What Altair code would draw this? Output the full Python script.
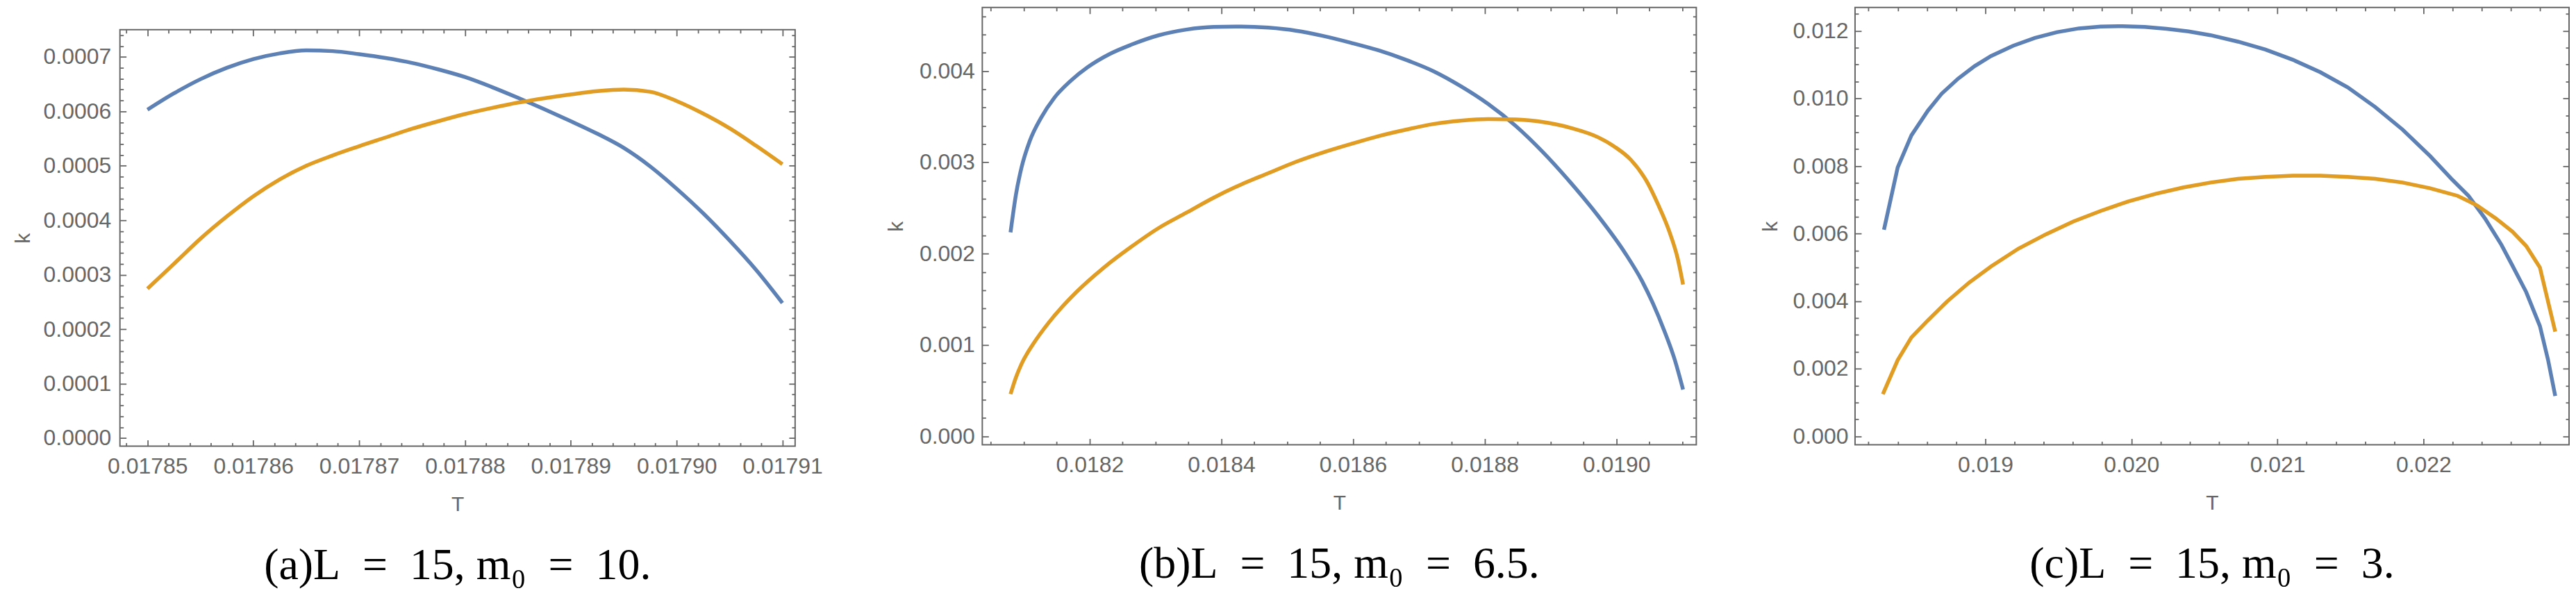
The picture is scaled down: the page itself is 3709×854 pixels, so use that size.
import math
import altair as alt
import pandas as pd

BLUE = "#5E81B5"
ORANGE = "#E19C24"
GREY = "#666666"
SANS = "Liberation Sans"
SERIF = "Liberation Serif"

# ---------------- Panel (a): L = 15, m0 = 10 ----------------
a_T = [0.01785, 0.0178525, 0.017855, 0.0178575, 0.01786, 0.0178625, 0.017865,
       0.0178675, 0.01787, 0.0178725, 0.017875, 0.0178775, 0.01788, 0.0178825,
       0.017885, 0.0178875, 0.01789, 0.0178925, 0.017895, 0.0178975, 0.0179,
       0.0179025, 0.017905, 0.0179075, 0.01791]
a_blue = [0.000603, 0.000633, 0.000659, 0.000680, 0.000696, 0.0007065, 0.000712,
          0.0007106, 0.000705, 0.000698, 0.000689, 0.000677, 0.000663, 0.000645,
          0.000625, 0.000604, 0.000582, 0.000559, 0.000533, 0.000499, 0.000458,
          0.000413, 0.000363, 0.000309, 0.000248]
a_orange = [0.0002745, 0.00032, 0.000366, 0.000407, 0.000444, 0.000475, 0.0005,
            0.000519, 0.000536, 0.000552, 0.000568, 0.000582, 0.000595, 0.000606,
            0.000616, 0.000624, 0.000631, 0.000637, 0.00064, 0.000636, 0.000619,
            0.000596, 0.000569, 0.000537, 0.000503]

# ---------------- Panel (b): L = 15, m0 = 6.5 ----------------
b_blue_T = [0.0180799, 0.0180883, 0.0180966, 0.0181091, 0.0181258, 0.0181466,
            0.0181717, 0.0181966, 0.01823, 0.0182634, 0.0183051, 0.0183468,
            0.0183884, 0.0184301, 0.0184718, 0.0185135, 0.0185552, 0.0185969,
            0.0186387, 0.0186804, 0.0187221, 0.0187638, 0.0188054, 0.0188471,
            0.0188888, 0.0189305, 0.0189722, 0.0190139, 0.0190389, 0.0190556,
            0.0190723, 0.0190889, 0.0191014]
b_blue = [0.002233, 0.002655, 0.002944, 0.003234, 0.003482, 0.003709, 0.003896,
          0.00404, 0.004185, 0.004289, 0.004392, 0.004454, 0.004483, 0.004487,
          0.004475, 0.004442, 0.004384, 0.00431, 0.004227, 0.004123, 0.003999,
          0.003834, 0.003639, 0.0034, 0.00311, 0.002779, 0.002415, 0.002001,
          0.001703, 0.001455, 0.001166, 0.000835, 0.000512]
b_orange_T = [0.0180799, 0.0180883, 0.0180966, 0.0181133, 0.0181383, 0.01818,
              0.0182217, 0.0182634, 0.0183051, 0.0183468, 0.0183884, 0.0184301,
              0.0184718, 0.0185135, 0.0185552, 0.0185969, 0.0186387, 0.0186804,
              0.0187221, 0.0187638, 0.0188054, 0.0188471, 0.0188888, 0.0189305,
              0.0189722, 0.0189972, 0.0190222, 0.0190472, 0.0190639, 0.0190806,
              0.0190931, 0.0191014]
b_orange = [0.000462, 0.000649, 0.000793, 0.001, 0.001249, 0.00158, 0.001848,
            0.002076, 0.002282, 0.002448, 0.002613, 0.002758, 0.002882, 0.003006,
            0.00311, 0.003201, 0.003287, 0.003358, 0.00342, 0.003457, 0.003474,
            0.00347, 0.003441, 0.003378, 0.003275, 0.003172, 0.003027, 0.002779,
            0.002531, 0.002241, 0.001951, 0.001662]

# ---------------- Panel (c): L = 15, m0 = 3 ----------------
c_blue_T = [0.018306, 0.0184, 0.018494, 0.0186065, 0.0187005, 0.0188135, 0.018926,
            0.0190389, 0.0191894, 0.0193394, 0.0194899, 0.0196403, 0.0197903,
            0.0199408, 0.0200913, 0.0202413, 0.0203918, 0.0205422, 0.0207302,
            0.0209182, 0.0211062, 0.0212942, 0.0214816, 0.0216696, 0.0218576,
            0.0220456, 0.0221961, 0.0223086, 0.0224215, 0.022534, 0.0226095,
            0.0227035, 0.0227975, 0.0228535, 0.0229024]
c_blue = [0.006113, 0.007957, 0.008907, 0.009635, 0.010137, 0.010585, 0.010954,
          0.011255, 0.011557, 0.011791, 0.011959, 0.012072, 0.012127, 0.012138,
          0.012115, 0.012059, 0.011982, 0.011871, 0.01168, 0.011444, 0.011143,
          0.010774, 0.010326, 0.009746, 0.009075, 0.008293, 0.0076, 0.007118,
          0.006447, 0.005666, 0.00505, 0.004269, 0.003262, 0.002256, 0.001194]
c_orange_T = [0.0182984, 0.0184, 0.018494, 0.0186065, 0.018738, 0.0188885,
              0.0190389, 0.0192269, 0.0194149, 0.0196024, 0.0197903, 0.0199783,
              0.0201663, 0.0203543, 0.0205422, 0.0207302, 0.0209182, 0.0211062,
              0.0212942, 0.0214816, 0.0216696, 0.0218576, 0.0220456, 0.0222336,
              0.0223651, 0.0224965, 0.0226095, 0.0227035, 0.0227975, 0.0229024]
c_orange = [0.001249, 0.002256, 0.002927, 0.00343, 0.00399, 0.004548, 0.005028,
            0.005555, 0.005979, 0.006359, 0.006671, 0.006952, 0.007175, 0.007364,
            0.00751, 0.007622, 0.007678, 0.007711, 0.007711, 0.007678, 0.007622,
            0.00751, 0.007342, 0.007118, 0.006839, 0.006447, 0.006057, 0.005633,
            0.004995, 0.003095]

# tick labels
a_xticks = [0.01785, 0.01786, 0.01787, 0.01788, 0.01789, 0.0179, 0.01791]
a_yticks = [0.0, 0.0001, 0.0002, 0.0003, 0.0004, 0.0005, 0.0006, 0.0007]
b_xticks = [0.0182, 0.0184, 0.0186, 0.0188, 0.019]
b_yticks = [0.0, 0.001, 0.002, 0.003, 0.004]
c_xticks = [0.019, 0.02, 0.021, 0.022]
c_yticks = [0.0, 0.002, 0.004, 0.006, 0.008, 0.01, 0.012]

captions = ["(a)L\u2002=\u200215, m\u2080\u2002=\u200210.",
            "(b)L\u2002=\u200215, m\u2080\u2002=\u20026.5.",
            "(c)L\u2002=\u200215, m\u2080\u2002=\u20023."]


def minor_ticks(lo, hi, step, major):
    vals = []
    n0 = math.ceil(lo / step - 1e-9)
    n1 = math.floor(hi / step + 1e-9)
    for n in range(n0, n1 + 1):
        v = round(n * step, 10)
        r = v / major
        if abs(r - round(r)) < 1e-6:
            continue
        vals.append(v)
    return vals


def panel(bT, bk, oT, ok, xd, yd, xmaj, ymaj, xstep, ystep, w, h,
          xfmt, yfmt, ylabpad, ytitlepad, caption, interp):
    df = pd.DataFrame({
        "T": list(bT) + list(oT),
        "k": list(bk) + list(ok),
        "series": ["curve 1"] * len(bT) + ["curve 2"] * len(oT),
    })
    xs = alt.Scale(domain=xd, nice=False, zero=False)
    ys = alt.Scale(domain=yd, nice=False, zero=False)
    base = alt.Chart(df)

    main = base.mark_line(strokeWidth=5.5, interpolate=interp).encode(
        x=alt.X("T:Q", scale=xs, axis=alt.Axis(
            orient="bottom", values=xmaj, format=xfmt, ticks=False, tickSize=0,
            domain=False, grid=False, labelFlush=False, labelOverlap=False,
            labelPadding=14, labelFont=SANS, labelFontSize=32, labelColor=GREY,
            title="T", titleFont=SANS, titleFontSize=30, titleFontWeight="normal",
            titleColor=GREY, titlePadding=24)),
        y=alt.Y("k:Q", scale=ys, axis=alt.Axis(
            orient="left", values=ymaj, format=yfmt, ticks=False, tickSize=0,
            domain=False, grid=False, labelOverlap=False,
            labelPadding=ylabpad, labelFont=SANS, labelFontSize=32, labelColor=GREY,
            title="k", titleFont=SANS, titleFontSize=30, titleFontWeight="normal",
            titleColor=GREY, titlePadding=ytitlepad)),
        color=alt.Color("series:N",
                        scale=alt.Scale(domain=["curve 1", "curve 2"], range=[BLUE, ORANGE]),
                        legend=None),
    )

    xminor = minor_ticks(xd[0], xd[1], xstep, xmaj[1] - xmaj[0])
    yminor = minor_ticks(yd[0], yd[1], ystep, ymaj[1] - ymaj[0])

    def tick_layer(xorient, yorient, xv, yv, size):
        xa = alt.Axis(orient=xorient, offset=-h, values=xv, labels=False,
                      domain=False, grid=False, ticks=True, tickSize=size,
                      tickWidth=1.8, tickColor=GREY, title=None)
        ya = alt.Axis(orient=yorient, offset=-w, values=yv, labels=False,
                      domain=False, grid=False, ticks=True, tickSize=size,
                      tickWidth=1.8, tickColor=GREY, title=None)
        return base.mark_line(opacity=0).encode(
            x=alt.X("T:Q", scale=xs, axis=xa),
            y=alt.Y("k:Q", scale=ys, axis=ya),
            detail="series:N",
        )

    layers = [
        main,
        tick_layer("top", "right", xmaj, ymaj, 9),
        tick_layer("top", "right", xminor, yminor, 5),
        tick_layer("bottom", "left", xmaj, ymaj, 9),
        tick_layer("bottom", "left", xminor, yminor, 5),
    ]
    return alt.layer(*layers).resolve_scale(
        x="independent", y="independent"
    ).resolve_axis(
        x="independent", y="independent"
    ).properties(
        width=w, height=h,
        title=alt.TitleParams(text=caption, orient="bottom", anchor="middle",
                              offset=42, font=SERIF, fontSize=64,
                              fontWeight="normal", color="black"),
    )


pa = panel(a_T, a_blue, a_T, a_orange,
           [0.0178474, 0.0179112], [-0.0000149, 0.00075],
           a_xticks, a_yticks, 0.000002, 0.00002, 974, 601,
           ".5f", ".4f", 13, 14, captions[0], "monotone")
pb = panel(b_blue_T, b_blue, b_orange_T, b_orange,
           [0.018037, 0.0191215], [-0.0000934, 0.004696],
           b_xticks, b_yticks, 0.00005, 0.0002, 1030, 631,
           ".4f", ".3f", 11, 18, captions[1], "monotone")
pc = panel(c_blue_T, c_blue, c_orange_T, c_orange,
           [0.018108, 0.022997], [-0.000252, 0.012691],
           c_xticks, c_yticks, 0.0002, 0.0005, 1030, 631,
           ".3f", ".3f", 10, 17, captions[2], "linear")

spacer = alt.Chart(pd.DataFrame({"z": [0]})).mark_rect(opacity=0).encode(
    x=alt.value(0), x2=alt.value(10), y=alt.value(0), y2=alt.value(30)
).properties(width=10, height=30,
             view=alt.ViewBackground(strokeWidth=0, strokeOpacity=0))

left = alt.vconcat(spacer, pa, spacing=0)

chart = alt.hconcat(left, pb, pc, spacing=88).properties(
    padding={"left": 9, "top": 0, "right": 0, "bottom": 0}
).configure_view(stroke=GREY, strokeWidth=2)

chart.save("out.html", embed_options={"renderer": "svg", "actions": False})
